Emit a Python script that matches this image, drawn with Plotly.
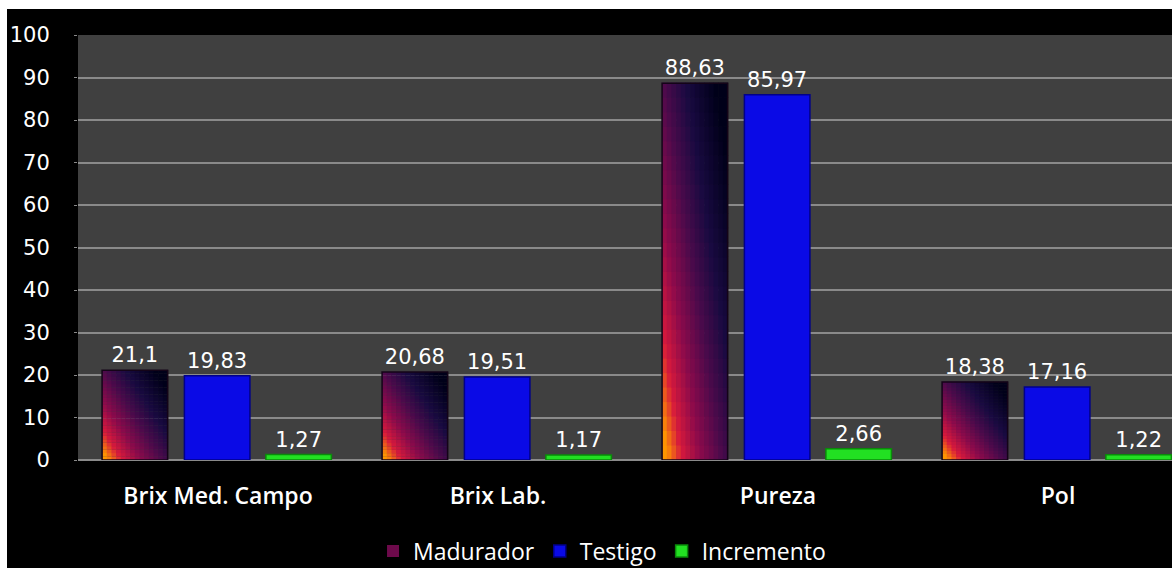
import plotly.graph_objects as go

categories = ["Brix Med. Campo", "Brix Lab.", "Pureza", "Pol"]
madurador = [21.1, 20.68, 88.63, 18.38]
testigo = [19.83, 19.51, 85.97, 17.16]
incremento = [1.27, 1.17, 2.66, 1.22]
y_ticks = [0, 10, 20, 30, 40, 50, 60, 70, 80, 90, 100]


def fmt(vals):
    return [f"{v:g}".replace(".", ",") for v in vals]


NUM_FONT = "DejaVu Sans"
TXT_FONT = "Open Sans"

# diagonal gradient stops for the "Madurador" fill (orange -> crimson -> purple -> navy)
stops = [(0.0, (255, 150, 0)), (0.14, (215, 25, 60)), (0.32, (140, 10, 75)),
         (0.52, (75, 10, 75)), (0.72, (25, 10, 65)), (1.0, (0, 0, 25))]


def grad(t):
    for (t0, c0), (t1, c1) in zip(stops, stops[1:]):
        if t <= t1:
            f = (t - t0) / (t1 - t0)
            return "rgb(%d,%d,%d)" % tuple(round(a + (b - a) * f) for a, b in zip(c0, c1))
    return "rgb(%d,%d,%d)" % stops[-1][1]


W = 0.234
OFF_M, OFF_T, OFF_I = -0.414, -0.12, 0.171
NX, NY = 14, 26

fig = go.Figure()
# gradient slices of Madurador
for i in range(NX):
    for j in range(NY):
        xf = (i + 0.5) / NX
        yf = (j + 0.5) / NY
        t = min(1.0, max(0.0, 0.62 * xf + 0.55 * yf - 0.05))
        legend = (i == 5 and j == 10)
        fig.add_trace(go.Bar(
            name="Madurador", x=categories,
            y=[v / NY * 1.04 for v in madurador], base=[v * j / NY for v in madurador],
            width=W / NX + 0.002, offset=OFF_M + W * i / NX,
            marker=dict(color=grad(t), line=dict(width=0)),
            showlegend=legend, legendgroup="m", hoverinfo="skip",
        ))
# outline + labels for Madurador
fig.add_trace(go.Bar(
    name="Madurador", x=categories, y=madurador, width=W, offset=OFF_M,
    text=fmt(madurador), textposition="outside",
    textfont=dict(color="white", size=21, family=NUM_FONT),
    marker=dict(color="rgba(0,0,0,0)", line=dict(color="#140418", width=1.5)),
    showlegend=False, legendgroup="m", cliponaxis=False,
))
for name, vals, col, line, off in [
    ("Testigo", testigo, "#0a0ae6", "#00008a", OFF_T),
    ("Incremento", incremento, "#22e022", "#0a8a0a", OFF_I),
]:
    fig.add_trace(go.Bar(
        name=name, x=categories, y=vals, width=W, offset=off,
        text=fmt(vals), textposition="outside",
        textfont=dict(color="white", size=21, family=NUM_FONT),
        marker=dict(color=col, line=dict(color=line, width=1.5)),
        cliponaxis=False,
    ))

fig.update_layout(
    width=1172, height=568,
    margin=dict(l=78, r=0, t=35, b=108, autoexpand=False),
    paper_bgcolor="black", plot_bgcolor="#404040",
    barmode="overlay",
    font=dict(family=TXT_FONT, color="white", size=20),
    showlegend=True,
    legend=dict(orientation="h", x=0.479, xanchor="center", y=(460 - 551) / 425, yanchor="middle",
                font=dict(size=23, color="white", family=TXT_FONT), bgcolor="rgba(0,0,0,0)",
                itemwidth=30, traceorder="normal", tracegroupgap=0),
    xaxis=dict(range=[-0.5, 3.5 - 26 / 280], showgrid=False, ticks="",
               tickfont=dict(size=23, color="white", family=TXT_FONT, weight=600),
               ticklabelstandoff=20, showline=False, zeroline=False),
    yaxis=dict(range=[0, 100], tickvals=y_ticks, showgrid=True, gridcolor="#8a8a8a", gridwidth=1.5,
               ticks="outside", ticklen=3, tickcolor="#8a8a8a",
               tickfont=dict(size=21, color="white", family=NUM_FONT), ticklabelstandoff=20,
               zeroline=True, zerolinecolor="#8a8a8a", zerolinewidth=1.5, showline=False),
    shapes=[
        dict(type="rect", xref="paper", yref="paper", x0=-0.08, x1=1.01, y0=(460 - 9) / 425, y1=1.1,
             fillcolor="white", line=dict(width=0), layer="above"),
        dict(type="rect", xref="paper", yref="paper", x0=-0.08, x1=(7 - 78) / 1094, y0=-0.3, y1=1.1,
             fillcolor="white", line=dict(width=0), layer="above"),
    ],
)
fig.write_html("out.html")
